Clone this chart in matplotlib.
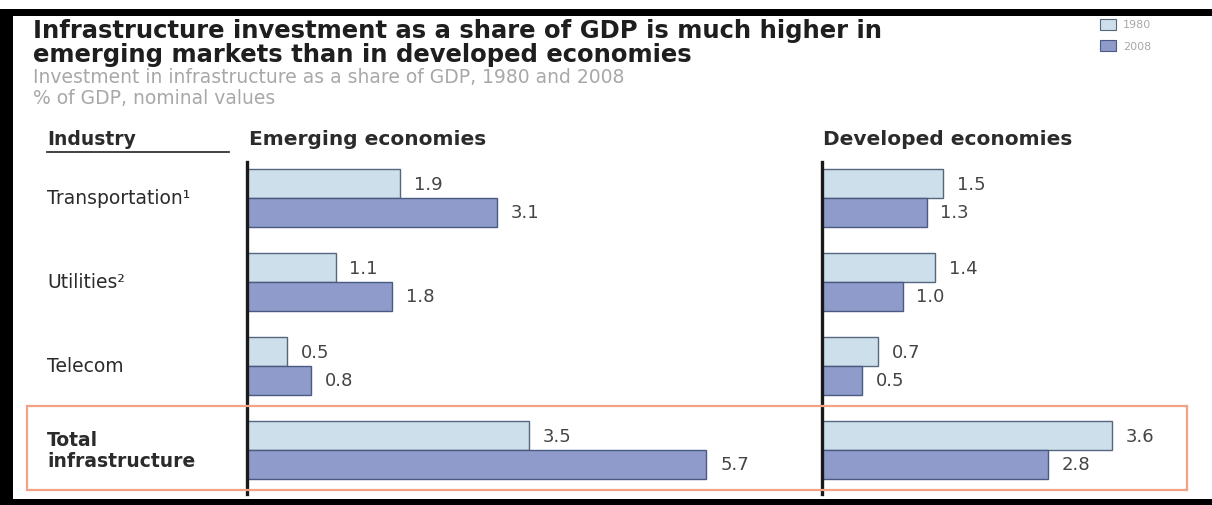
import matplotlib
matplotlib.use("Agg")
import matplotlib.pyplot as plt
from matplotlib.patches import Rectangle
import matplotlib.transforms as mtransforms
import numpy as np

W, H = 1212, 506
DPI = 100

industries = ["Transportation\u00b9", "Utilities\u00b2", "Telecom", "Total\ninfrastructure"]
emerging_1980 = [1.9, 1.1, 0.5, 3.5]
emerging_2008 = [3.1, 1.8, 0.8, 5.7]
developed_1980 = [1.5, 1.4, 0.7, 3.6]
developed_2008 = [1.3, 1.0, 0.5, 2.8]
years = ["1980", "2008"]

title = ("Infrastructure investment as a share of GDP is much higher in\n"
         "emerging markets than in developed economies")
subtitle1 = "Investment in infrastructure as a share of GDP, 1980 and 2008"
subtitle2 = "% of GDP, nominal values"

c1980 = "#cddfeb"
c2008 = "#8e9bcb"
e1980 = "#56677d"
e2008 = "#4b5a80"
txt_dark = "#2b2b2b"
txt_val = "#444444"
grey = "#a8a8a8"
orange = "#f2a386"

fig = plt.figure(figsize=(W / DPI, H / DPI), dpi=DPI)
fig.patch.set_facecolor("white")


def fx(px):
    return px / W


def fy(py):
    return 1 - py / H


# frame (black bands)
fig.patches.append(Rectangle((0, fy(17)), 1, 7 / H, transform=fig.transFigure,
                             facecolor="black", edgecolor="none", zorder=0))
fig.patches.append(Rectangle((0, 0), 13 / W, fy(10), transform=fig.transFigure,
                             facecolor="black", edgecolor="none", zorder=0))
fig.patches.append(Rectangle((0, 0), 1, 6 / H, transform=fig.transFigure,
                             facecolor="black", edgecolor="none", zorder=0))

# orange box around total row
fig.patches.append(Rectangle((fx(27), fy(491)), fx(1187) - fx(27), fy(407) - fy(491),
                             transform=fig.transFigure, facecolor="none",
                             edgecolor=orange, lw=1.6, zorder=1))

# titles
fig.text(fx(33), fy(19), title, ha="left", va="top", fontsize=17.5, fontweight="bold",
         color="#1e1e1e", linespacing=0.98)
fig.text(fx(33), fy(68), subtitle1, ha="left", va="top", fontsize=13.5, color=grey)
fig.text(fx(33), fy(89), subtitle2, ha="left", va="top", fontsize=13.5, color=grey)

# legend
for i, (yr, fc, ec) in enumerate(zip(years, [c1980, c2008], [e1980, e2008])):
    ytop = 20 + i * 21
    fig.patches.append(Rectangle((fx(1100), fy(ytop + 11)), 16 / W, 11 / H,
                                 transform=fig.transFigure, facecolor=fc,
                                 edgecolor=ec, lw=0.8))
    fig.text(fx(1123), fy(ytop + 5.5), yr, ha="left", va="center", fontsize=8, color=grey)

# headers
fig.text(fx(47), fy(140), "Industry", ha="left", va="center", fontsize=13.5,
         fontweight="bold", color=txt_dark)
fig.lines.append(plt.Line2D([fx(47), fx(229)], [fy(153), fy(153)], transform=fig.transFigure,
                            color="#333333", lw=1.3))
fig.text(fx(249), fy(140), "Emerging economies", ha="left", va="center", fontsize=14.5,
         fontweight="bold", color=txt_dark)
fig.text(fx(823), fy(140), "Developed economies", ha="left", va="center", fontsize=14.5,
         fontweight="bold", color=txt_dark)

# axes geometry
ytop_px, ybot_px = 163, 495
row_px = 84
first_center = 199
ylo = -(first_center - ytop_px) / row_px
yhi = ylo + (ybot_px - ytop_px) / row_px
px_per_unit = 80.6
bh = 0.345

pos = np.arange(len(industries))


def make_axes(left_px, xmax, v1980, v2008):
    width_px = xmax * px_per_unit
    ax = fig.add_axes([fx(left_px), fy(ybot_px), width_px / W, (ybot_px - ytop_px) / H])
    ax.set_xlim(0, xmax)
    ax.set_ylim(yhi, ylo)
    ax.barh(pos - bh / 2, v1980, height=bh, color=c1980, edgecolor=e1980, lw=1.0, zorder=2)
    ax.barh(pos + bh / 2, v2008, height=bh, color=c2008, edgecolor=e2008, lw=1.0, zorder=2)
    for p, a, b in zip(pos, v1980, v2008):
        ax.text(a + 0.17, p - bh / 2, f"{a:.1f}", ha="left", va="center", fontsize=13,
                color=txt_val)
        ax.text(b + 0.17, p + bh / 2, f"{b:.1f}", ha="left", va="center", fontsize=13,
                color=txt_val)
    for s in ["top", "right", "bottom"]:
        ax.spines[s].set_visible(False)
    ax.spines["left"].set_linewidth(2.4)
    ax.spines["left"].set_color("#1a1a1a")
    ax.set_xticks([])
    ax.set_yticks([])
    ax.patch.set_alpha(0)
    return ax


ax_e = make_axes(247, 6.2, emerging_1980, emerging_2008)
ax_d = make_axes(822, 4.6, developed_1980, developed_2008)

# category labels
lab_tr = mtransforms.blended_transform_factory(fig.transFigure, ax_e.transData)
for p, lab in zip(pos, industries):
    bold = "Total" in lab
    ax_e.text(fx(47), p, lab, transform=lab_tr, ha="left", va="center",
              fontsize=13.5, color=txt_dark, fontweight="bold" if bold else "normal",
              linespacing=1.15)

fig.savefig("out.png", dpi=DPI, facecolor="white")
